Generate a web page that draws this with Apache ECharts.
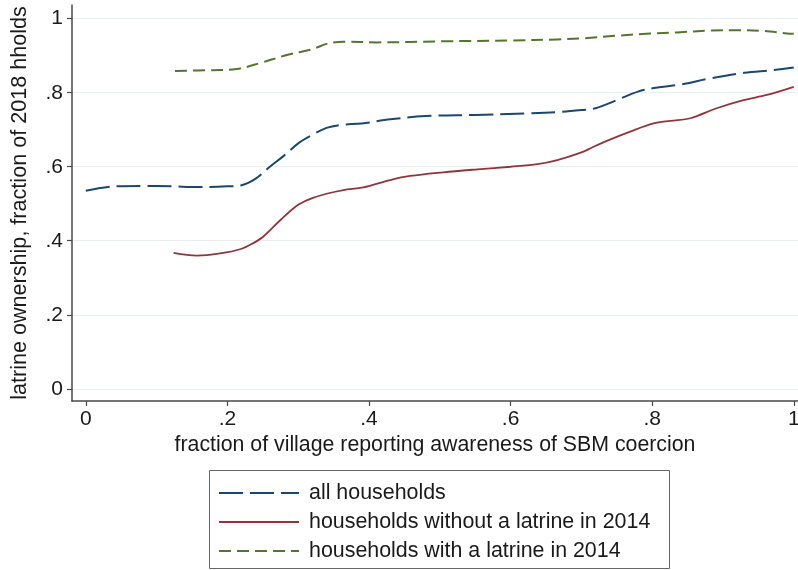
<!DOCTYPE html>
<html>
<head>
<meta charset="utf-8">
<script src="https://cdn.jsdelivr.net/npm/echarts@6/dist/echarts.min.js"></script>
<style>
  html, body { margin: 0; padding: 0; background: #fff; }
  #chart { width: 798px; height: 570px; }
</style>
</head>
<body>
<div id="chart"></div>
<script>
// Smoothed latrine ownership against village awareness of SBM coercion
const allX = [0, 0.04, 0.08, 0.12, 0.16, 0.20, 0.22, 0.24, 0.26, 0.28, 0.30, 0.32, 0.34, 0.36, 0.39, 0.43, 0.48, 0.55, 0.62, 0.67, 0.70, 0.72, 0.75, 0.78, 0.81, 0.84, 0.88, 0.93, 0.97, 1.0];
const allY = [0.535, 0.547, 0.548, 0.547, 0.545, 0.547, 0.550, 0.568, 0.600, 0.630, 0.663, 0.686, 0.705, 0.713, 0.717, 0.728, 0.737, 0.740, 0.744, 0.748, 0.753, 0.758, 0.780, 0.803, 0.815, 0.822, 0.838, 0.854, 0.861, 0.868];

const withoutX = [0.124, 0.157, 0.19, 0.218, 0.235, 0.25, 0.275, 0.30, 0.32, 0.34, 0.364, 0.392, 0.43, 0.458, 0.505, 0.553, 0.60, 0.638, 0.666, 0.703, 0.715, 0.736, 0.769, 0.802, 0.826, 0.854, 0.891, 0.929, 0.962, 1.0];
const withoutY = [0.367, 0.360, 0.366, 0.377, 0.392, 0.410, 0.456, 0.497, 0.515, 0.527, 0.537, 0.544, 0.564, 0.575, 0.585, 0.593, 0.600, 0.607, 0.618, 0.641, 0.652, 0.670, 0.695, 0.717, 0.724, 0.731, 0.758, 0.780, 0.794, 0.816];

const withX = [0.126, 0.18, 0.213, 0.246, 0.284, 0.321, 0.34, 0.364, 0.411, 0.505, 0.60, 0.666, 0.703, 0.75, 0.797, 0.835, 0.882, 0.92, 0.957, 0.99, 1.0];
const withY = [0.859, 0.861, 0.864, 0.880, 0.902, 0.918, 0.932, 0.938, 0.936, 0.939, 0.941, 0.944, 0.947, 0.954, 0.960, 0.963, 0.968, 0.969, 0.967, 0.960, 0.959];

const seriesNames = ['all households', 'households without a latrine in 2014', 'households with a latrine in 2014'];
const xTicks = [0, 0.2, 0.4, 0.6, 0.8, 1];
const yTicks = [0, 0.2, 0.4, 0.6, 0.8, 1];

const pairs = (xs, ys) => xs.map((x, i) => [x, ys[i]]);
const tickText = v => {
  const r = Math.round(v * 10) / 10;
  if (r === 0) return '0';
  if (r === 1) return '1';
  return String(r).replace(/^0/, '');
};

const FONT = '"Liberation Sans", Arial, sans-serif';
const INK = '#1a1a1a';
const AXIS = '#4a4a4a';

const chart = echarts.init(document.getElementById('chart'), null, { renderer: 'canvas' });

chart.setOption({
  backgroundColor: '#ffffff',
  animation: false,
  textStyle: { fontFamily: FONT, color: INK },
  grid: {
    left: 72, right: 0, top: 5, bottom: 169,
    containLabel: false,
    outerBoundsMode: 'none'
  },
  xAxis: {
    type: 'value',
    min: -0.0195, max: 1.006,
    name: 'fraction of village reporting awareness of SBM coercion',
    nameLocation: 'middle',
    nameGap: 28,
    nameTextStyle: { fontSize: 21.3, color: INK, fontFamily: FONT },
    axisLine: { show: true, onZero: false, lineStyle: { color: AXIS, width: 1.5 } },
    axisTick: { show: true, length: 5, customValues: xTicks, lineStyle: { color: AXIS, width: 1.2 } },
    axisLabel: { customValues: xTicks, formatter: tickText, fontSize: 21, color: INK, margin: 8, fontFamily: FONT },
    splitLine: { show: false }
  },
  yAxis: {
    type: 'value',
    min: -0.033, max: 1.037,
    name: 'latrine ownership, fraction of 2018 hholds',
    nameLocation: 'middle',
    nameGap: 41,
    nameTextStyle: { fontSize: 21.6, color: INK, fontFamily: FONT },
    axisLine: { show: true, onZero: false, lineStyle: { color: AXIS, width: 1.5 } },
    axisTick: { show: true, length: 5, customValues: yTicks, lineStyle: { color: AXIS, width: 1.2 } },
    axisLabel: { customValues: yTicks, formatter: tickText, fontSize: 21, color: INK, margin: 9, fontFamily: FONT },
    splitLine: { show: true, lineStyle: { color: '#e9eef0', width: 1.2 } }
  },
  legend: {
    orient: 'vertical',
    left: 218, top: 481,
    padding: 0,
    itemGap: 5,
    itemWidth: 80,
    itemHeight: 14,
    data: seriesNames,
    itemStyle: { opacity: 0 },
    textStyle: { fontSize: 21.4, color: INK, fontFamily: FONT, lineHeight: 24, padding: [0, 0, 0, 5] }
  },
  graphic: [{
    type: 'rect',
    shape: { x: 209.5, y: 470.5, width: 460, height: 98 },
    style: { fill: 'none', stroke: '#666', lineWidth: 1 },
    silent: true
  }],
  series: [
    {
      name: seriesNames[0], type: 'line', data: pairs(allX, allY),
      smooth: 0.35, showSymbol: false, symbol: 'none',
      lineStyle: { color: '#1a476f', width: 2, type: [24, 7] },
      itemStyle: { color: '#1a476f' }
    },
    {
      name: seriesNames[1], type: 'line', data: pairs(withoutX, withoutY),
      smooth: 0.35, showSymbol: false, symbol: 'none',
      lineStyle: { color: '#90353b', width: 1.8, type: 'solid' },
      itemStyle: { color: '#90353b' }
    },
    {
      name: seriesNames[2], type: 'line', data: pairs(withX, withY),
      smooth: 0.35, showSymbol: false, symbol: 'none',
      lineStyle: { color: '#55752f', width: 2, type: [12, 6] },
      itemStyle: { color: '#55752f' }
    }
  ]
});
</script>
</body>
</html>
